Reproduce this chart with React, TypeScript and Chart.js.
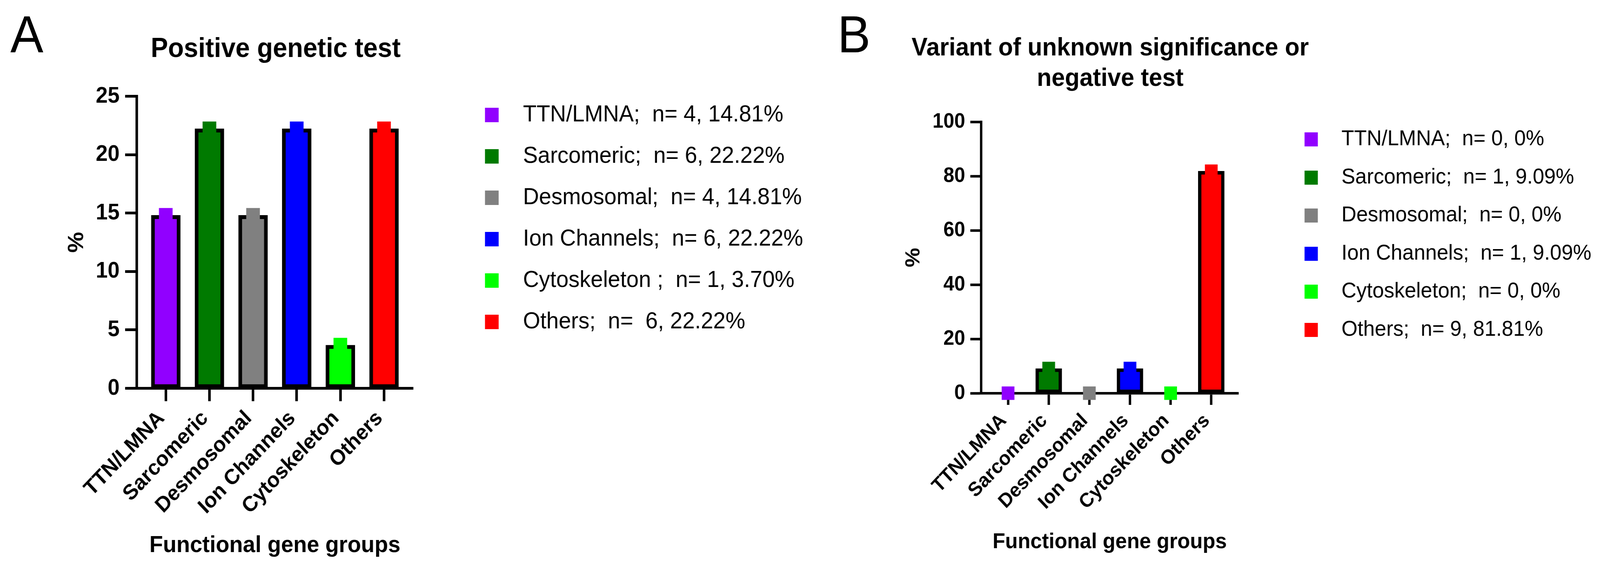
import React, { useEffect, useRef } from 'react';
import { Chart, registerables } from 'chart.js';

Chart.register(...registerables);

const FONT = '"Liberation Sans", Arial, Helvetica, sans-serif';
const FIG_W = 4335;
const FIG_H = 1465;

// ---------- data ----------
const CATEGORIES = ['TTN/LMNA', 'Sarcomeric', 'Desmosomal', 'Ion Channels', 'Cytoskeleton', 'Others'];
const COLORS = ['#9100FF', '#007A00', '#808080', '#0000FF', '#00FF00', '#FF0000'];
const POSITIVE_PCT = [14.81, 22.22, 14.81, 22.22, 3.7, 22.22];
const VUS_PCT = [0, 9.09, 0, 9.09, 0, 81.81];
const POSITIVE_LEGEND = [
  'TTN/LMNA;  n= 4, 14.81%',
  'Sarcomeric;  n= 6, 22.22%',
  'Desmosomal;  n= 4, 14.81%',
  'Ion Channels;  n= 6, 22.22%',
  'Cytoskeleton ;  n= 1, 3.70%',
  'Others;  n=  6, 22.22%',
];
const VUS_LEGEND = [
  'TTN/LMNA;  n= 0, 0%',
  'Sarcomeric;  n= 1, 9.09%',
  'Desmosomal;  n= 0, 0%',
  'Ion Channels;  n= 1, 9.09%',
  'Cytoskeleton;  n= 0, 0%',
  'Others;  n= 9, 81.81%',
];
const POSITIVE_Y_MAX = 25;
const POSITIVE_Y_STEP = 5;
const VUS_Y_MAX = 100;
const VUS_Y_STEP = 20;
const X_MIN = -0.665;
const X_MAX = 5.665;
const TITLE_A = 'Positive genetic test';
const TITLE_B = ['Variant of unknown significance or', 'negative test'];
const X_TITLE = 'Functional gene groups';
const Y_TITLE = '%';

// ---------- layout / style ----------
interface Panel {
  width: number; height: number;
  padLeft: number; padRight: number; legendMaxWidth: number;
  yScaleWidth: number; xScaleHeight: number;
  titleFont: number; titlePadTop: number; titlePadBottom: number;
  yTickFont: number; xTickFont: number; axisTitleFont: number;
  yTitlePad: number; xTitlePad: number;
  yTickLen: number; xTickLen: number; lineW: number;
  yTickPad: number; xTickPad: number; xLabelShift: number;
  barThickness: number; barBorder: number; pointRadius: number;
  legendFont: number; legendPad: number; legendTitleH: number;
  legendBoxW: number; legendSquareX: number; legendSquare: number;
}

const PANEL_A: Panel = {
  width: 2200, height: FIG_H,
  padLeft: 15, padRight: 721, legendMaxWidth: 360,
  yScaleWidth: 355.5, xScaleHeight: 470.5,
  titleFont: 70, titlePadTop: 85, titlePadBottom: 77.5,
  yTickFont: 58, xTickFont: 55, axisTitleFont: 60,
  yTitlePad: 157, xTitlePad: 32,
  yTickLen: 31.5, xTickLen: 33, lineW: 7,
  yTickPad: 15, xTickPad: 12, xLabelShift: -12,
  barThickness: 79, barBorder: 10, pointRadius: 26.2,
  legendFont: 60, legendPad: 46, legendTitleH: 218,
  legendBoxW: 222, legendSquareX: 149, legendSquare: 37,
};

const PANEL_B: Panel = {
  width: 2085, height: FIG_H,
  padLeft: 51, padRight: 620, legendMaxWidth: 360,
  yScaleWidth: 357, xScaleHeight: 458,
  titleFont: 65, titlePadTop: 85, titlePadBottom: 71,
  yTickFont: 53, xTickFont: 51, axisTitleFont: 56,
  yTitlePad: 141.4, xTitlePad: 42.4,
  yTickLen: 29, xTickLen: 30, lineW: 6.5,
  yTickPad: 14, xTickPad: 11, xLabelShift: -12,
  barThickness: 71, barBorder: 9, pointRadius: 24.4,
  legendFont: 56, legendPad: 41.5, legendTitleH: 287.5,
  legendBoxW: 210, legendSquareX: 138, legendSquare: 36,
};

// widen the legend's clip box to the canvas edge so long labels are not cut
const legendClipFix = {
  id: 'legendClipFix',
  afterLayout(chart: any) {
    const lg = chart.legend;
    if (lg) {
      lg.right = chart.width;
      lg.width = lg.right - lg.left;
    }
  },
};

function swatch(color: string, w: number, offset: number, side: number): HTMLCanvasElement {
  const c = document.createElement('canvas');
  c.width = w;
  c.height = side;
  const ctx = c.getContext('2d');
  if (ctx) {
    ctx.fillStyle = color;
    ctx.fillRect(offset, 0, side, side);
  }
  return c;
}

function buildChart(
  canvas: HTMLCanvasElement,
  values: number[],
  legend: string[],
  title: string | string[],
  yMax: number,
  yStep: number,
  p: Panel,
): Chart {
  const swatches = COLORS.map((c) => swatch(c, p.legendBoxW, p.legendSquareX, p.legendSquare));
  const pts = values.map((v, i) => ({ x: i, y: v }));
  return new Chart(canvas, {
    type: 'bar',
    plugins: [legendClipFix],
    data: {
      datasets: [
        {
          type: 'line',
          data: pts,
          showLine: false,
          pointStyle: 'rect',
          pointRadius: p.pointRadius,
          pointHoverRadius: p.pointRadius,
          pointBackgroundColor: COLORS,
          pointBorderWidth: 0,
          clip: false,
          order: 0,
        } as any,
        {
          type: 'bar',
          data: pts,
          backgroundColor: COLORS,
          borderColor: '#000',
          borderWidth: p.barBorder,
          borderSkipped: false,
          barThickness: p.barThickness,
          clip: false,
          order: 1,
        } as any,
      ],
    },
    options: {
      animation: false,
      responsive: false,
      devicePixelRatio: 1,
      events: [],
      layout: { padding: { left: p.padLeft, right: p.padRight, top: 0, bottom: 0 } },
      plugins: {
        tooltip: { enabled: false },
        title: {
          display: true,
          text: title,
          fullSize: true,
          color: '#000',
          font: { family: FONT, size: p.titleFont, weight: 'bold', lineHeight: 1.2 },
          padding: { top: p.titlePadTop, bottom: p.titlePadBottom },
        },
        legend: {
          display: true,
          position: 'right',
          align: 'start',
          fullSize: true,
          maxWidth: p.legendMaxWidth,
          title: {
            display: true,
            text: '',
            font: { size: 10, lineHeight: 1.2 },
            padding: { top: 0, bottom: p.legendTitleH - 12 },
          },
          labels: {
            usePointStyle: true,
            pointStyleWidth: p.legendBoxW,
            padding: p.legendPad,
            color: '#000',
            font: { family: FONT, size: p.legendFont, weight: 'normal' },
            generateLabels: () =>
              legend.map((text, i) => ({
                text,
                fillStyle: COLORS[i],
                strokeStyle: COLORS[i],
                lineWidth: 0,
                pointStyle: swatches[i] as any,
                fontColor: '#000',
                hidden: false,
                index: i,
                datasetIndex: 1,
              })),
          },
        },
      },
      scales: {
        x: {
          type: 'linear',
          min: X_MIN,
          max: X_MAX,
          offset: false,
          afterBuildTicks: (s: any) => {
            s.ticks = CATEGORIES.map((_, i) => ({ value: i }));
          },
          afterFit: (s: any) => {
            s.height = p.xScaleHeight;
          },
          grid: {
            display: true,
            offset: false,
            drawOnChartArea: false,
            drawTicks: true,
            tickLength: p.xTickLen,
            tickWidth: p.lineW,
            tickColor: '#000',
          },
          border: { display: true, color: '#000', width: p.lineW },
          ticks: {
            autoSkip: false,
            minRotation: 45,
            maxRotation: 45,
            padding: p.xTickPad,
            labelOffset: p.xLabelShift,
            color: '#000',
            font: { family: FONT, size: p.xTickFont, weight: 'bold' },
            callback: (v: any) => CATEGORIES[v as number] ?? '',
          },
          title: {
            display: true,
            text: X_TITLE,
            color: '#000',
            font: { family: FONT, size: p.axisTitleFont, weight: 'bold', lineHeight: 1.2 },
            padding: { top: 0, bottom: p.xTitlePad },
          },
        } as any,
        y: {
          type: 'linear',
          min: 0,
          max: yMax,
          afterFit: (s: any) => {
            s.width = p.yScaleWidth;
          },
          grid: {
            display: true,
            drawOnChartArea: false,
            drawTicks: true,
            tickLength: p.yTickLen,
            tickWidth: p.lineW,
            tickColor: '#000',
          },
          border: { display: true, color: '#000', width: p.lineW },
          ticks: {
            stepSize: yStep,
            padding: p.yTickPad,
            color: '#000',
            font: { family: FONT, size: p.yTickFont, weight: 'bold' },
          },
          title: {
            display: true,
            text: Y_TITLE,
            color: '#000',
            font: { family: FONT, size: p.axisTitleFont, weight: 'bold', lineHeight: 1.2 },
            padding: { top: p.yTitlePad, bottom: 0 },
          },
        } as any,
      },
    } as any,
  });
}

export default function App() {
  const refA = useRef<HTMLCanvasElement | null>(null);
  const refB = useRef<HTMLCanvasElement | null>(null);

  useEffect(() => {
    Chart.defaults.color = '#000';
    Chart.defaults.font.family = FONT;
    const charts: Chart[] = [];
    if (refA.current) {
      charts.push(buildChart(refA.current, POSITIVE_PCT, POSITIVE_LEGEND, TITLE_A, POSITIVE_Y_MAX, POSITIVE_Y_STEP, PANEL_A));
    }
    if (refB.current) {
      charts.push(buildChart(refB.current, VUS_PCT, VUS_LEGEND, TITLE_B, VUS_Y_MAX, VUS_Y_STEP, PANEL_B));
    }
    return () => charts.forEach((c) => c.destroy());
  }, []);

  // the viewport may be narrower than the figure: squeeze horizontally to fit
  const vw = typeof window !== 'undefined' ? window.innerWidth : FIG_W;
  const sx = Math.min(1, vw / FIG_W);

  const letter: React.CSSProperties = {
    position: 'absolute',
    top: 20.6,
    fontFamily: FONT,
    fontSize: 134,
    lineHeight: 1,
    color: '#000',
    fontWeight: 'normal',
  };

  return (
    <div
      style={{
        position: 'fixed',
        left: 0,
        top: 0,
        width: FIG_W,
        height: FIG_H,
        background: '#fff',
        overflow: 'hidden',
        transform: `scaleX(${sx})`,
        transformOrigin: '0 0',
      }}
    >
      <div style={{ ...letter, left: 28 }}>A</div>
      <canvas
        ref={refA}
        width={PANEL_A.width}
        height={PANEL_A.height}
        style={{ position: 'absolute', left: 0, top: 0 }}
      />
      <div style={{ ...letter, left: 2269 }}>B</div>
      <canvas
        ref={refB}
        width={PANEL_B.width}
        height={PANEL_B.height}
        style={{ position: 'absolute', left: 2250, top: 0 }}
      />
    </div>
  );
}
